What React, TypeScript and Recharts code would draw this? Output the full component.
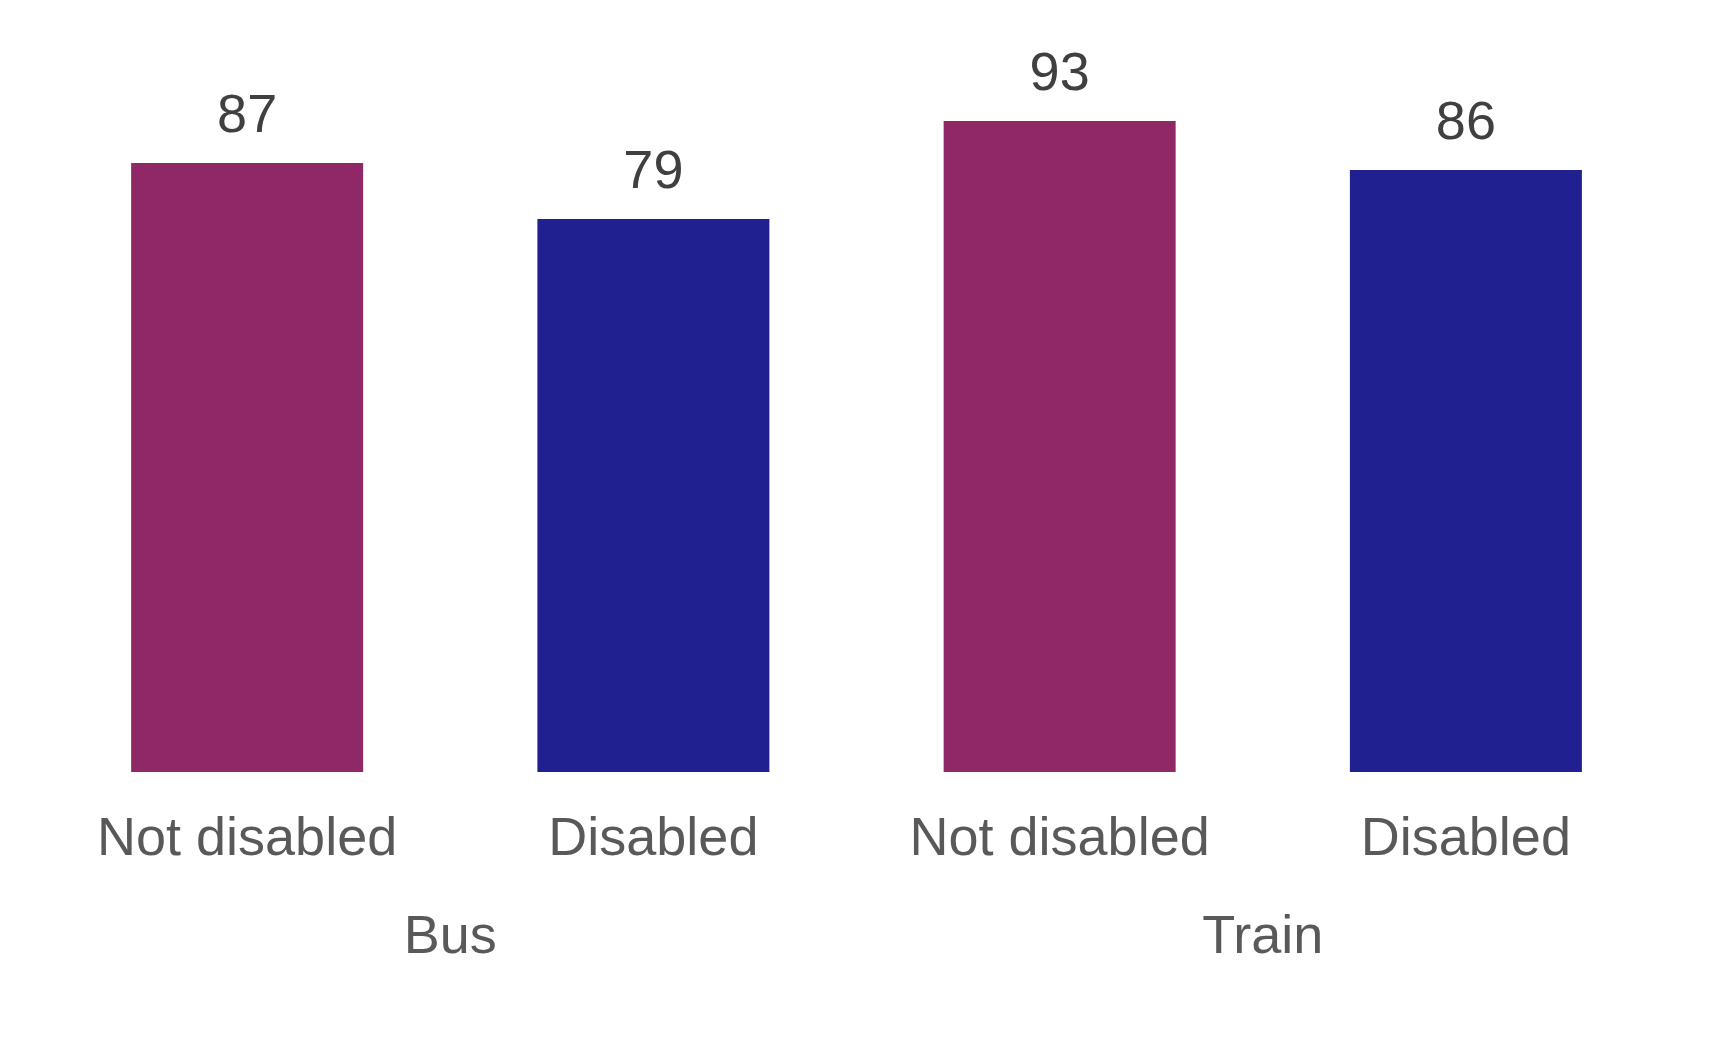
import React from 'react';
import { BarChart, Bar, XAxis, YAxis, Cell, LabelList } from 'recharts';

// Survey result per mode of transport and disability status
const categories = ['Not disabled', 'Disabled', 'Not disabled', 'Disabled'];
const groups = ['Bus', 'Bus', 'Train', 'Train'];
const values = [87, 79, 93, 86];
const barColors = ['#912866', '#202090', '#912866', '#202090'];

const data = categories.map((category, i) => ({
  key: `${groups[i]}-${category}`,
  category,
  group: groups[i],
  value: values[i],
}));

const WIDTH = 1715;
const HEIGHT = 1025;
const AXIS_HEIGHT = 200;
const MARGIN = { top: 64, right: 54, left: 36, bottom: 261 - AXIS_HEIGHT };
const BAND = (WIDTH - MARGIN.left - MARGIN.right) / data.length;
const FONT = '"Liberation Sans", Arial, sans-serif';

const TwoLevelTick = (props: any) => {
  const { x, y, index } = props;
  const item = data[index];
  if (!item) return null;
  // the group name sits under the middle of its pair of bars
  const showGroup = index % 2 === 1;
  return (
    <g>
      <text x={x} y={y + 83} textAnchor="middle" fontSize={54} fill="#595959" fontFamily={FONT}>
        {item.category}
      </text>
      {showGroup && (
        <text x={x - BAND / 2} y={y + 181} textAnchor="middle" fontSize={54} fill="#595959" fontFamily={FONT}>
          {item.group}
        </text>
      )}
    </g>
  );
};

export default function App() {
  return (
    <div style={{ width: WIDTH, height: HEIGHT, background: '#fff' }}>
      <BarChart width={WIDTH} height={HEIGHT} data={data} margin={MARGIN} barCategoryGap="21.45%">
        <XAxis
          dataKey="key"
          axisLine={false}
          tickLine={false}
          tickSize={0}
          tickMargin={0}
          height={AXIS_HEIGHT}
          interval={0}
          tick={<TwoLevelTick />}
        />
        <YAxis hide domain={[0, 100]} />
        <Bar dataKey="value" isAnimationActive={false}>
          {data.map((d, i) => (
            <Cell key={d.key} fill={barColors[i]} />
          ))}
          <LabelList
            dataKey="value"
            position="top"
            offset={31}
            style={{ fontSize: 54, fill: '#404040', fontFamily: FONT }}
          />
        </Bar>
      </BarChart>
    </div>
  );
}
